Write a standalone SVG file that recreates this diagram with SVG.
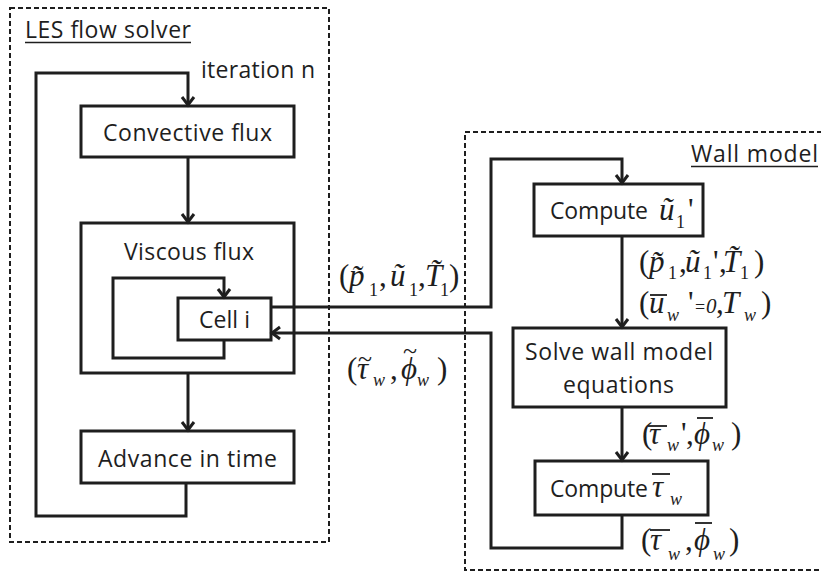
<svg xmlns="http://www.w3.org/2000/svg" width="821" height="574" viewBox="0 0 821 574">
<defs>
<style>
.box{fill:#fff;stroke:#1e1e1e;stroke-width:3}
.dash{fill:none;stroke:#1e1e1e;stroke-width:2;stroke-dasharray:5 3}
.conn{fill:none;stroke:#1e1e1e;stroke-width:3;stroke-linejoin:miter}
.ul{stroke:#1e1e1e;stroke-width:1.5}
.bar{stroke:#1e1e1e;stroke-width:1.8}
.lbl{font-family:"Open Sans","Liberation Sans",sans-serif;font-size:23px;fill:#1e1e1e}
.m{font-family:"Liberation Serif","Times New Roman",serif;font-size:31px;font-style:italic;fill:#1e1e1e}
.u{font-style:normal}
.s{font-size:18px}
.tl{font-family:"Liberation Serif",serif;font-size:26px;fill:#1e1e1e;text-anchor:middle}
</style>
<marker id="ah" markerUnits="userSpaceOnUse" markerWidth="16" markerHeight="16" viewBox="0 0 16 14" refX="11" refY="7" orient="auto">
<path d="M2,1 L10,7 L2,13" fill="none" stroke="#1e1e1e" stroke-width="3"/>
</marker>
</defs>
<rect width="821" height="574" fill="#fff"/>

<g id="les-solver">
<rect class="dash" x="10" y="8" width="319" height="534"/>
<text class="lbl" x="25" y="38" textLength="166">LES flow solver</text>
<line class="ul" x1="25" y1="42.5" x2="191" y2="42.5"/>
<text class="lbl" x="201" y="78" textLength="114">iteration n</text>
</g>

<g id="wall-model">
<rect class="dash" x="465" y="132" width="362" height="438"/>
<text class="lbl" x="691" y="162" textLength="127">Wall model</text>
<line class="ul" x1="691" y1="166.5" x2="818" y2="166.5"/>
</g>

<g id="convective-flux">
<rect class="box" x="81" y="106" width="213" height="51"/>
<text class="lbl" x="103" y="141" textLength="169">Convective flux</text>
</g>

<g id="viscous-flux">
<rect class="box" x="81" y="223" width="213" height="150"/>
<text class="lbl" x="124" y="260" textLength="130">Viscous flux</text>
</g>

<g id="cell-i">
<rect class="box" x="178" y="298" width="93" height="42"/>
<text class="lbl" x="199" y="328" textLength="51">Cell i</text>
</g>

<g id="advance-in-time">
<rect class="box" x="81" y="431" width="213" height="52"/>
<text class="lbl" x="98" y="467" textLength="179">Advance in time</text>
</g>

<g id="compute-u1">
<rect class="box" x="534" y="184" width="169" height="52"/>
<text class="lbl" x="550" y="219" textLength="98">Compute</text>
<text class="m"><tspan x="659" y="220">ũ</tspan><tspan class="u s" x="676" y="228">1</tspan><tspan class="u" x="688" y="220">'</tspan></text>
</g>

<g id="solve-wall-model">
<rect class="box" x="513" y="328" width="213" height="79"/>
<text class="lbl" x="525" y="360" textLength="188">Solve wall model</text>
<text class="lbl" x="563" y="393" textLength="111">equations</text>
</g>

<g id="compute-tau">
<rect class="box" x="535" y="461" width="173" height="54"/>
<text class="lbl" x="550" y="497" textLength="98">Compute</text>
<text class="m"><tspan x="652" y="497">τ</tspan><tspan class="s" x="670" y="505">w</tspan></text>
<line class="bar" x1="652" y1="474" x2="670" y2="474"/>
</g>

<g id="connectors">
<path class="conn" d="M186,483 V516 H36 V73 H188 V106" marker-end="url(#ah)"/>
<path class="conn" d="M188,157 V223" marker-end="url(#ah)"/>
<path class="conn" d="M188,373 V431" marker-end="url(#ah)"/>
<path class="conn" d="M224,340 V358 H113 V278 H224 V298" marker-end="url(#ah)"/>
<path class="conn" d="M271,307 H491 V159 H622 V184" marker-end="url(#ah)"/>
<path class="conn" d="M622,236 V328" marker-end="url(#ah)"/>
<path class="conn" d="M622,407 V461" marker-end="url(#ah)"/>
<path class="conn" d="M622,515 V548 H491 V333 H271" marker-end="url(#ah)"/>
</g>

<g id="labels">
<text class="m"><tspan class="u" x="339" y="286">(</tspan><tspan x="349" y="286">p̃</tspan><tspan class="u s" x="369" y="296">1</tspan><tspan class="u" x="379" y="286">,</tspan><tspan x="390" y="286">ũ</tspan><tspan class="u s" x="409" y="296">1</tspan><tspan class="u" x="418" y="286">,</tspan><tspan x="425" y="286">T̃</tspan><tspan class="u s" x="440" y="296">1</tspan><tspan class="u" x="449" y="286">)</tspan></text>

<text class="m"><tspan class="u" x="639" y="272">(</tspan><tspan x="649" y="272">p̃</tspan><tspan class="u s" x="668" y="279">1</tspan><tspan class="u" x="679" y="272">,</tspan><tspan x="685" y="272">ũ</tspan><tspan class="u s" x="703" y="279">1</tspan><tspan class="u" x="713" y="272">'</tspan><tspan class="u" x="719" y="272">,</tspan><tspan x="723" y="272">T̃</tspan><tspan class="u s" x="740" y="279">1</tspan><tspan class="u" x="754" y="272">)</tspan></text>

<text class="m"><tspan class="u" x="639" y="313">(</tspan><tspan x="649" y="313">u</tspan><tspan class="s" x="667" y="321">w</tspan><tspan class="u" x="688" y="313">'</tspan><tspan class="u" x="695" y="313" style="font-size:18px">=</tspan><tspan x="706" y="313" style="font-size:21px">0</tspan><tspan class="u" x="716" y="313">,</tspan><tspan x="722" y="313">T</tspan><tspan class="s" x="744" y="321">w</tspan><tspan class="u" x="761" y="313">)</tspan></text>
<line class="bar" x1="650" y1="295" x2="667" y2="295"/>

<text class="m"><tspan class="u" x="642" y="444">(</tspan><tspan x="649" y="444">τ</tspan><tspan class="s" x="667" y="451">w</tspan><tspan class="u" x="681" y="444">'</tspan><tspan class="u" x="686" y="444">,</tspan><tspan x="694" y="444">ϕ</tspan><tspan class="s" x="712" y="451">w</tspan><tspan class="u" x="731" y="444">)</tspan></text>
<line class="bar" x1="648" y1="426" x2="667" y2="426"/>
<line class="bar" x1="697" y1="418" x2="713" y2="418"/>

<text class="m"><tspan class="u" x="641" y="550">(</tspan><tspan x="650" y="550">τ</tspan><tspan class="s" x="668" y="560">w</tspan><tspan class="u" x="685" y="550">,</tspan><tspan x="694" y="550">ϕ</tspan><tspan class="s" x="713" y="560">w</tspan><tspan class="u" x="729" y="550">)</tspan></text>
<line class="bar" x1="650" y1="530" x2="670" y2="530"/>
<line class="bar" x1="695" y1="523" x2="712" y2="523"/>

<text class="m"><tspan class="u" x="347" y="379">(</tspan><tspan x="357" y="379">τ</tspan><tspan class="s" x="373" y="386">w</tspan><tspan class="u" x="390" y="379">,</tspan><tspan x="401" y="379">ϕ</tspan><tspan class="s" x="417" y="386">w</tspan><tspan class="u" x="437" y="379">)</tspan></text>
<text class="tl" x="365" y="367">~</text>
<text class="tl" x="410" y="359">~</text>
</g>
</svg>
